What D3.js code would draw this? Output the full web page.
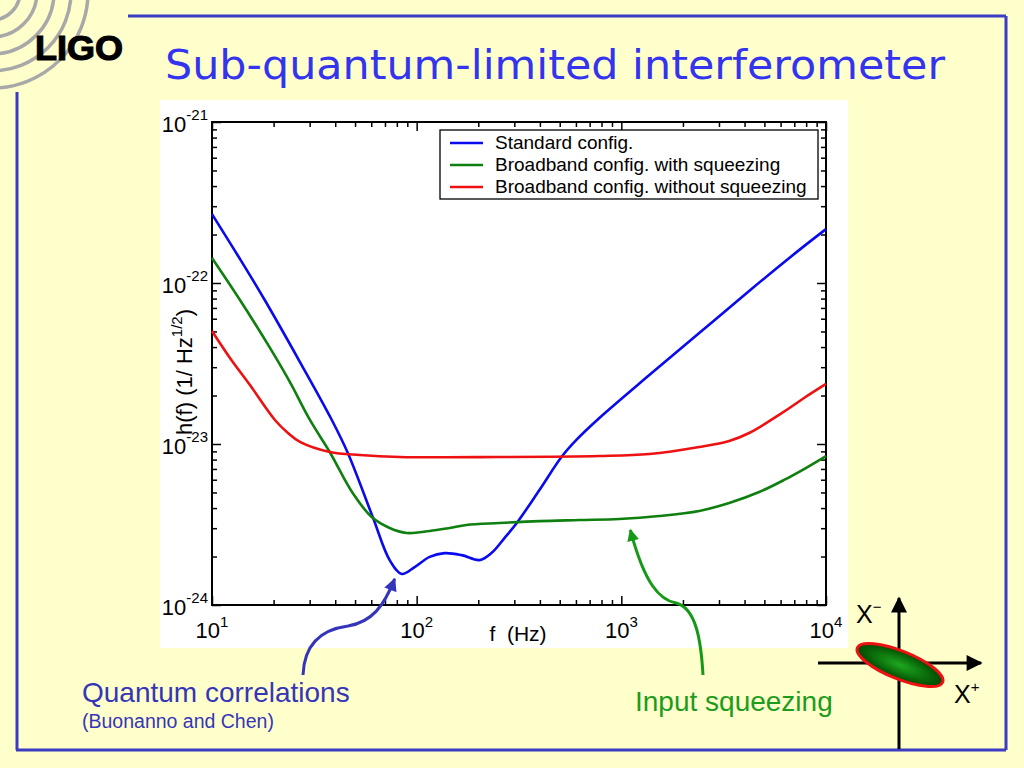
<!DOCTYPE html>
<html>
<head>
<meta charset="utf-8">
<script src="https://cdn.jsdelivr.net/npm/d3@7"></script>
<style>
  html, body { margin: 0; padding: 0; background: #ffffcc; }
  svg { display: block; }
</style>
</head>
<body>
<div id="slide"></div>
<script>
/*  *****  DATA  *****  */

// [frequency in Hz, strain noise h(f) in 1/sqrt(Hz)]
var standardConfig = [
  [10, 2.68e-22], [13.7, 1.41e-22], [18.1, 7.84e-23], [26.9, 3.23e-23], [38.5, 1.41e-23],
  [46.1, 8.79e-24], [61.0, 3.52e-24], [73.8, 1.90e-24], [84.5, 1.56e-24], [97.8, 1.72e-24],
  [115.7, 1.99e-24], [137, 2.10e-24], [166, 2.04e-24], [203, 1.90e-24], [232, 2.10e-24],
  [269, 2.61e-24], [311, 3.28e-24], [398, 5.18e-24], [510, 8.30e-24], [603, 1.06e-23],
  [781, 1.45e-23], [1370, 2.68e-23], [2402, 4.89e-23], [4211, 8.92e-23], [7385, 1.60e-22],
  [10000, 2.16e-22]
];
var squeezedConfig = [
  [10, 1.43e-22], [13.7, 7.84e-23], [19.2, 3.95e-23], [24.0, 2.43e-23], [30.1, 1.41e-23],
  [37.6, 8.92e-24], [48.7, 4.96e-24], [60.3, 3.52e-24], [73.8, 3.01e-24], [89.4, 2.80e-24],
  [115.7, 2.88e-24], [145, 3.01e-24], [175, 3.14e-24], [254, 3.23e-24], [398, 3.32e-24],
  [624, 3.37e-24], [978, 3.42e-24], [1532, 3.57e-24], [2402, 3.84e-24], [3365, 4.30e-24],
  [4713, 5.03e-24], [6240, 5.98e-24], [7810, 6.99e-24], [10000, 8.42e-24]
];
var unsqueezedConfig = [
  [10, 5.03e-23], [12.24, 3.42e-23], [15.3, 2.33e-23], [20.3, 1.41e-23], [23.5, 1.17e-23],
  [26.9, 1.03e-23], [37.6, 8.92e-24], [52.7, 8.54e-24], [82.6, 8.30e-24], [254, 8.30e-24],
  [781, 8.42e-24], [1370, 8.67e-24], [2402, 9.58e-24], [3365, 1.044e-23], [4211, 1.17e-23],
  [6100, 1.56e-23], [7810, 1.93e-23], [10000, 2.36e-23]
];

var legendLabels = ["Standard config.", "Broadband config. with squeezing", "Broadband config. without squeezing"];
var xTickValues = [10, 100, 1000, 10000];
var xTickExponents = ["1", "2", "3", "4"];
var yTickValues = [1e-21, 1e-22, 1e-23, 1e-24];
var yTickExponents = ["-21", "-22", "-23", "-24"];

/*  *****  SLIDE SETUP  *****  */

var seriesColors = ["#0a0aee", "#0f7f0f", "#ee1111"];
var frameBlue = "#3b3bc4";

var svg = d3.select("#slide").append("svg")
  .attr("width", 1024)
  .attr("height", 768);

svg.append("rect").attr("width", 1024).attr("height", 768).attr("fill", "#ffffcc");

var defs = svg.append("defs");

// arrow heads
function addMarker(id, color, w, h) {
  defs.append("marker")
    .attr("id", id)
    .attr("viewBox", "0 0 10 10")
    .attr("refX", 9).attr("refY", 5)
    .attr("markerUnits", "userSpaceOnUse")
    .attr("markerWidth", w).attr("markerHeight", h)
    .attr("orient", "auto")
    .append("path")
      .attr("d", "M0,0 L10,5 L0,10 z")
      .attr("fill", color);
}
addMarker("arrowBlue", "#3535bc", 14, 13);
addMarker("arrowGreen", "#169916", 13, 12);
addMarker("arrowBlack", "#000", 18, 16);

var grad = defs.append("radialGradient").attr("id", "squeezeFill");
grad.append("stop").attr("offset", "0%").attr("stop-color", "#1ea81e");
grad.append("stop").attr("offset", "100%").attr("stop-color", "#004a00");

// slide frame
var frame = svg.append("g")
  .attr("stroke", frameBlue)
  .attr("stroke-width", 3)
  .attr("fill", "none");
frame.append("line").attr("x1", 128).attr("y1", 16).attr("x2", 1006).attr("y2", 16);
frame.append("line").attr("x1", 1006).attr("y1", 16).attr("x2", 1006).attr("y2", 750);
frame.append("line").attr("x1", 16).attr("y1", 750).attr("x2", 1006).attr("y2", 750);
frame.append("line").attr("x1", 17).attr("y1", 92).attr("x2", 17).attr("y2", 750);

// LIGO logo
var logo = svg.append("g");
[28, 45, 62, 79, 96].forEach(function(r) {
  logo.append("circle")
    .attr("cx", -8).attr("cy", -8).attr("r", r)
    .attr("fill", "none")
    .attr("stroke", "#a8a8a8")
    .attr("stroke-width", 3.5);
});
logo.append("text")
  .attr("x", 35).attr("y", 60)
  .attr("textLength", 88)
  .attr("lengthAdjust", "spacingAndGlyphs")
  .style("font-family", "'Liberation Sans', Arial, sans-serif")
  .style("font-weight", "bold")
  .style("font-size", "35px")
  .attr("stroke", "#000").attr("stroke-width", 1.2)
  .attr("fill", "#000")
  .text("LIGO");

// title
svg.append("text")
  .attr("x", 165).attr("y", 79)
  .attr("textLength", 780)
  .attr("lengthAdjust", "spacingAndGlyphs")
  .style("font-family", "'Comic Sans MS', 'DejaVu Sans', sans-serif")
  .style("font-size", "40px")
  .attr("fill", "#3434ee")
  .text("Sub-quantum-limited interferometer");

/*  *****  CHART  *****  */

svg.append("rect")
  .attr("x", 160).attr("y", 100)
  .attr("width", 688).attr("height", 548)
  .attr("fill", "#fff");

var x = d3.scaleLog().domain([10, 10000]).range([212, 826]);
var y = d3.scaleLog().domain([1e-24, 1e-21]).range([605, 122]);

function isMajor(v) { var l = Math.log10(v); return Math.abs(l - Math.round(l)) < 1e-6; }
var xMinor = x.ticks().filter(function(v) { return !isMajor(v); });
var yMinor = y.ticks().filter(function(v) { return !isMajor(v); });

var axes = svg.append("g");
function drawAxis(axisFn, scale, pos, transform) {
  var minorAxis = axisFn(scale).tickValues(pos === "x" ? xMinor : yMinor).tickSize(-5).tickFormat("");
  var majorAxis = axisFn(scale).tickValues(pos === "x" ? xTickValues : yTickValues).tickSize(-9).tickFormat("");
  [minorAxis, majorAxis].forEach(function(a) {
    var g = axes.append("g").attr("transform", transform).call(a);
    g.select(".domain").remove();
    g.selectAll("line").attr("stroke", "#000").attr("stroke-width", 1.5);
  });
}
drawAxis(d3.axisBottom, x, "x", "translate(0,605)");
drawAxis(d3.axisTop, x, "x", "translate(0,122)");
drawAxis(d3.axisLeft, y, "y", "translate(212,0)");
drawAxis(d3.axisRight, y, "y", "translate(826,0)");

// plot frame
svg.append("rect")
  .attr("x", 212).attr("y", 122)
  .attr("width", 614).attr("height", 483)
  .attr("fill", "none")
  .attr("stroke", "#000")
  .attr("stroke-width", 2);

var labelFont = "'Liberation Sans', Arial, sans-serif";

// x tick labels
xTickValues.forEach(function(v, i) {
  var t = svg.append("text")
    .attr("x", x(v)).attr("y", 638)
    .attr("text-anchor", "middle")
    .style("font-family", labelFont)
    .style("font-size", "22px");
  t.append("tspan").text("10");
  t.append("tspan").attr("dy", -11).style("font-size", "15px").text(xTickExponents[i]);
});

// y tick labels
yTickValues.forEach(function(v, i) {
  var t = svg.append("text")
    .attr("x", 208).attr("y", y(v) + 10)
    .attr("text-anchor", "end")
    .style("font-family", labelFont)
    .style("font-size", "22px");
  t.append("tspan").text("10");
  t.append("tspan").attr("dy", -12).style("font-size", "15px").text(yTickExponents[i]);
});

// axis titles
svg.append("text")
  .attr("x", 518).attr("y", 641)
  .attr("text-anchor", "middle")
  .style("font-family", labelFont)
  .style("font-size", "21px")
  .attr("xml:space", "preserve")
  .text("f  (Hz)");

var yTitle = svg.append("text")
  .attr("transform", "translate(192,372) rotate(-90)")
  .attr("text-anchor", "middle")
  .style("font-family", labelFont)
  .style("font-size", "22px");
yTitle.append("tspan").text("h(f) (1/ Hz");
yTitle.append("tspan").attr("dy", -10).style("font-size", "15px").text("1/2");
yTitle.append("tspan").attr("dy", 10).text(")");

// curves
var line = d3.line()
  .x(function(d) { return x(d[0]); })
  .y(function(d) { return y(d[1]); })
  .curve(d3.curveCatmullRom.alpha(0.5));

[standardConfig, squeezedConfig, unsqueezedConfig].forEach(function(series, i) {
  svg.append("path")
    .datum(series)
    .attr("d", line)
    .style("fill", "none")
    .style("stroke", seriesColors[i])
    .style("stroke-width", "2.6px")
    .style("stroke-linejoin", "round");
});

// legend
var legend = svg.append("g");
legend.append("rect")
  .attr("x", 440).attr("y", 130)
  .attr("width", 378).attr("height", 69)
  .attr("fill", "#fff")
  .attr("stroke", "#000")
  .attr("stroke-width", 1.3);
legendLabels.forEach(function(label, i) {
  var ly = 143 + i * 22;
  legend.append("line")
    .attr("x1", 450).attr("x2", 483)
    .attr("y1", ly).attr("y2", ly)
    .attr("stroke", seriesColors[i])
    .attr("stroke-width", 2.6);
  legend.append("text")
    .attr("x", 495).attr("y", ly + 6)
    .style("font-family", labelFont)
    .style("font-size", "19px")
    .text(label);
});

/*  *****  ANNOTATIONS  *****  */

// quantum correlations arrow, pointing at the standard-config dip
var dip = [x(84.5), y(1.56e-24)];
svg.append("path")
  .attr("d", "M303,675 C304,648 318,630 348,626 C372,622 384,606 " + (dip[0] - 7) + "," + (dip[1] + 5))
  .attr("fill", "none")
  .attr("stroke", "#3535bc")
  .attr("stroke-width", 3)
  .attr("marker-end", "url(#arrowBlue)");

svg.append("text")
  .attr("x", 82).attr("y", 702)
  .style("font-family", labelFont)
  .style("font-size", "28px")
  .attr("fill", "#3535b8")
  .text("Quantum correlations");
svg.append("text")
  .attr("x", 82).attr("y", 728)
  .style("font-family", labelFont)
  .style("font-size", "19.5px")
  .attr("fill", "#3535b8")
  .text("(Buonanno and Chen)");

// input squeezing arrow, pointing at the squeezed curve
var sq = [x(1107), y(3.42e-24)];
svg.append("path")
  .attr("d", "M703,675 C701,640 696,608 676,603 C660,600 645,585 " + sq[0] + "," + (sq[1] + 11))
  .attr("fill", "none")
  .attr("stroke", "#169916")
  .attr("stroke-width", 3)
  .attr("marker-end", "url(#arrowGreen)");

svg.append("text")
  .attr("x", 635).attr("y", 711)
  .style("font-family", labelFont)
  .style("font-size", "28px")
  .attr("fill", "#1c9c1c")
  .text("Input squeezing");

// quadrature picture
var quad = svg.append("g");
quad.append("line")
  .attr("x1", 899).attr("y1", 749).attr("x2", 899).attr("y2", 598)
  .attr("stroke", "#000").attr("stroke-width", 3)
  .attr("marker-end", "url(#arrowBlack)");
quad.append("line")
  .attr("x1", 818).attr("y1", 663).attr("x2", 981).attr("y2", 663)
  .attr("stroke", "#000").attr("stroke-width", 3)
  .attr("marker-end", "url(#arrowBlack)");
quad.append("ellipse")
  .attr("cx", 900).attr("cy", 665)
  .attr("rx", 46).attr("ry", 14)
  .attr("transform", "rotate(22,900,665)")
  .attr("fill", "url(#squeezeFill)")
  .attr("stroke", "#ee1111")
  .attr("stroke-width", 3);

var xm = quad.append("text")
  .attr("x", 856).attr("y", 623)
  .style("font-family", labelFont)
  .style("font-size", "25px");
xm.append("tspan").text("X");
xm.append("tspan").attr("dy", -11).style("font-size", "15px").text("\u2212");

var xp = quad.append("text")
  .attr("x", 954).attr("y", 703)
  .style("font-family", labelFont)
  .style("font-size", "25px");
xp.append("tspan").text("X");
xp.append("tspan").attr("dy", -11).style("font-size", "15px").text("+");
</script>
</body>
</html>
